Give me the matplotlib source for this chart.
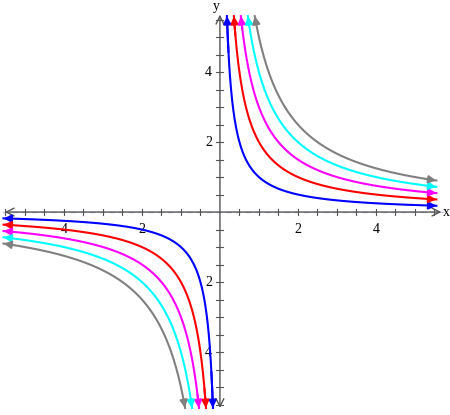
import matplotlib.pyplot as plt
import numpy as np

# y = k/x for each curve
ks = [1, 2, 3, 4, 5]
colors = ["#0000ff", "#ff0000", "#ff00ff", "#00ffff", "#808080"]
x_ticklabels = {-4: "4", -2: "2", 2: "2", 4: "4"}
y_ticklabels = {-4: "4", -2: "2", 2: "2", 4: "4"}

xmin, xmax = -5.64, 5.9
ymin, ymax = -5.8, 6.06
xend = 5.55   # where curves stop (arrow tips)
yend = 5.6

fig = plt.figure(figsize=(4.5, 4.15), dpi=100)
ax = fig.add_axes([0, 0, 1, 1])
ax.set_xlim(xmin, xmax)
ax.set_ylim(ymin, ymax)
ax.axis('off')

axc = "#555555"
# axes with open arrows
ax.plot([xmin + 0.05, 5.75], [0, 0], color="#c8c8e8", lw=1, ls=(0, (4, 3)), zorder=1)
ax.annotate('', xy=(xmin + 0.05, 0), xytext=(5.75, 0),
            arrowprops=dict(arrowstyle='<->', color=axc, lw=1, mutation_scale=14), zorder=2)
ax.annotate('', xy=(0, -5.68), xytext=(0, 5.72),
            arrowprops=dict(arrowstyle='<->', color=axc, lw=1, mutation_scale=14), zorder=2)
ax.text(5.73, -0.02, "x", ha='left', va='center', family='Liberation Serif', fontsize=10)
ax.text(-0.08, 5.86, "y", ha='center', va='center', family='Liberation Serif', fontsize=10)

# ticks every 0.5
for t in np.arange(-5.5, 5.6, 0.5):
    if abs(t) < 1e-9:
        continue
    ax.plot([t, t], [-0.08, 0.08], color=axc, lw=0.8, zorder=2)
for t in np.arange(-5.5, 5.6, 0.5):
    if abs(t) < 1e-9:
        continue
    ax.plot([-0.09, 0.09], [t, t], color=axc, lw=0.8, zorder=2)

for v, s in x_ticklabels.items():
    ax.text(v, -0.3, s, ha='center', va='top', family='Liberation Serif', fontsize=10)
for v, s in y_ticklabels.items():
    ax.text(-0.2, v, s, ha='right', va='center', family='Liberation Serif', fontsize=10)

# hyperbolas
for k, c in zip(ks, colors):
    for sgn in (1, -1):
        x = sgn * np.linspace(k / yend, xend, 400)
        y = k / x
        ax.plot(x, y, color=c, lw=1.5, zorder=3)
        # arrow heads at both ends
        ax.annotate('', xy=(x[0], y[0]), xytext=(x[3], y[3]),
                    arrowprops=dict(arrowstyle='-|>', color=c, lw=1.5, mutation_scale=11,
                                    shrinkA=0, shrinkB=0), zorder=4)
        ax.annotate('', xy=(x[-1], y[-1]), xytext=(x[-15], y[-15]),
                    arrowprops=dict(arrowstyle='-|>', color=c, lw=1.5, mutation_scale=11,
                                    shrinkA=0, shrinkB=0), zorder=4)

plt.savefig("out.png", dpi=100)
